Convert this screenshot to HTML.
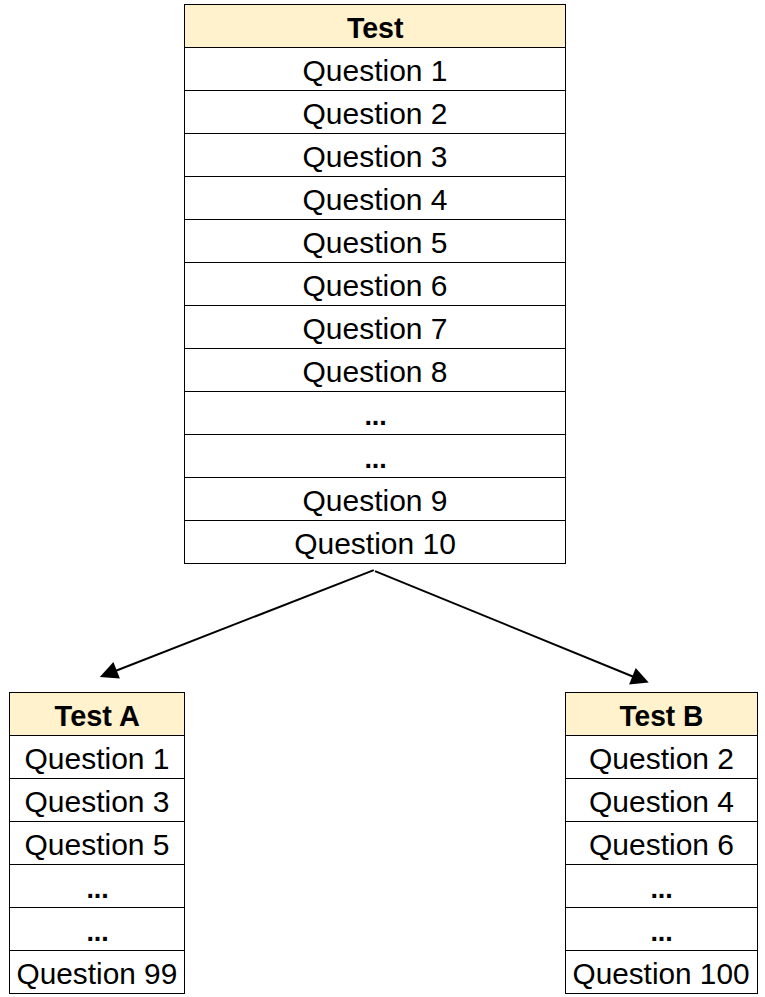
<!DOCTYPE html>
<html lang="en">
<head>
<meta charset="utf-8">
<title>Test split diagram</title>
<style>
html,body{margin:0;padding:0;background:#fff;}
body{width:765px;height:997px;overflow:hidden;}
svg{display:block;}
text{font-family:"Liberation Sans",sans-serif;font-size:29.3px;fill:#000;text-anchor:middle;}
text.b{font-weight:bold;}
text.d{font-weight:bold;font-size:27px;letter-spacing:-0.2px;}
</style>
</head>
<body>
<svg width="765" height="997" viewBox="0 0 765 997">
<rect x="0" y="0" width="765" height="997" fill="#fff"/>
<rect x="184" y="4" width="382" height="44" fill="#FFF2CC"/>
<rect x="184.5" y="4.5" width="381" height="559" fill="none" stroke="#000" stroke-width="1"/>
<line x1="184" y1="47.5" x2="566" y2="47.5" stroke="#000" stroke-width="1"/>
<line x1="184" y1="90.5" x2="566" y2="90.5" stroke="#000" stroke-width="1"/>
<line x1="184" y1="133.5" x2="566" y2="133.5" stroke="#000" stroke-width="1"/>
<line x1="184" y1="176.5" x2="566" y2="176.5" stroke="#000" stroke-width="1"/>
<line x1="184" y1="219.5" x2="566" y2="219.5" stroke="#000" stroke-width="1"/>
<line x1="184" y1="262.5" x2="566" y2="262.5" stroke="#000" stroke-width="1"/>
<line x1="184" y1="305.5" x2="566" y2="305.5" stroke="#000" stroke-width="1"/>
<line x1="184" y1="348.5" x2="566" y2="348.5" stroke="#000" stroke-width="1"/>
<line x1="184" y1="391.5" x2="566" y2="391.5" stroke="#000" stroke-width="1"/>
<line x1="184" y1="434.5" x2="566" y2="434.5" stroke="#000" stroke-width="1"/>
<line x1="184" y1="477.5" x2="566" y2="477.5" stroke="#000" stroke-width="1"/>
<line x1="184" y1="520.5" x2="566" y2="520.5" stroke="#000" stroke-width="1"/>
<text class="b" transform="translate(375.20,37.6) scale(0.975,1)">Test</text>
<text class="r" transform="translate(375.00,80.6) scale(1.024,1)">Question 1</text>
<text class="r" transform="translate(375.00,123.6) scale(1.024,1)">Question 2</text>
<text class="r" transform="translate(375.00,166.6) scale(1.024,1)">Question 3</text>
<text class="r" transform="translate(375.00,209.6) scale(1.024,1)">Question 4</text>
<text class="r" transform="translate(375.00,252.6) scale(1.024,1)">Question 5</text>
<text class="r" transform="translate(375.00,295.6) scale(1.024,1)">Question 6</text>
<text class="r" transform="translate(375.00,338.6) scale(1.024,1)">Question 7</text>
<text class="r" transform="translate(375.00,381.6) scale(1.024,1)">Question 8</text>
<text class="d" transform="translate(375.50,424.6) scale(1,1)">...</text>
<text class="d" transform="translate(375.50,467.6) scale(1,1)">...</text>
<text class="r" transform="translate(375.00,510.6) scale(1.024,1)">Question 9</text>
<text class="r" transform="translate(375.00,553.6) scale(1.024,1)">Question 10</text>
<rect x="9" y="692" width="176" height="44" fill="#FFF2CC"/>
<rect x="9.5" y="692.5" width="175" height="301" fill="none" stroke="#000" stroke-width="1"/>
<line x1="9" y1="735.5" x2="185" y2="735.5" stroke="#000" stroke-width="1"/>
<line x1="9" y1="778.5" x2="185" y2="778.5" stroke="#000" stroke-width="1"/>
<line x1="9" y1="821.5" x2="185" y2="821.5" stroke="#000" stroke-width="1"/>
<line x1="9" y1="864.5" x2="185" y2="864.5" stroke="#000" stroke-width="1"/>
<line x1="9" y1="907.5" x2="185" y2="907.5" stroke="#000" stroke-width="1"/>
<line x1="9" y1="950.5" x2="185" y2="950.5" stroke="#000" stroke-width="1"/>
<text class="b" transform="translate(97.20,725.6) scale(0.988,1)">Test A</text>
<text class="r" transform="translate(97.00,768.6) scale(1.024,1)">Question 1</text>
<text class="r" transform="translate(97.00,811.6) scale(1.024,1)">Question 3</text>
<text class="r" transform="translate(97.00,854.6) scale(1.024,1)">Question 5</text>
<text class="d" transform="translate(97.50,897.6) scale(1,1)">...</text>
<text class="d" transform="translate(97.50,940.6) scale(1,1)">...</text>
<text class="r" transform="translate(96.90,983.6) scale(1.018,1)">Question 99</text>
<rect x="565" y="692" width="193" height="44" fill="#FFF2CC"/>
<rect x="565.5" y="692.5" width="192" height="301" fill="none" stroke="#000" stroke-width="1"/>
<line x1="565" y1="735.5" x2="758" y2="735.5" stroke="#000" stroke-width="1"/>
<line x1="565" y1="778.5" x2="758" y2="778.5" stroke="#000" stroke-width="1"/>
<line x1="565" y1="821.5" x2="758" y2="821.5" stroke="#000" stroke-width="1"/>
<line x1="565" y1="864.5" x2="758" y2="864.5" stroke="#000" stroke-width="1"/>
<line x1="565" y1="907.5" x2="758" y2="907.5" stroke="#000" stroke-width="1"/>
<line x1="565" y1="950.5" x2="758" y2="950.5" stroke="#000" stroke-width="1"/>
<text class="b" transform="translate(661.40,725.6) scale(0.96,1)">Test B</text>
<text class="r" transform="translate(661.50,768.6) scale(1.024,1)">Question 2</text>
<text class="r" transform="translate(661.50,811.6) scale(1.024,1)">Question 4</text>
<text class="r" transform="translate(661.50,854.6) scale(1.024,1)">Question 6</text>
<text class="d" transform="translate(661.50,897.6) scale(1,1)">...</text>
<text class="d" transform="translate(661.50,940.6) scale(1,1)">...</text>
<text class="r" transform="translate(661.00,983.6) scale(1.016,1)">Question 100</text>
<line x1="373.8" y1="570.1" x2="114" y2="671.5" stroke="#000" stroke-width="1.9"/>
<polygon points="99.8,677.0 113.4,662.0 119.9,678.6" fill="#000"/>
<line x1="375.0" y1="571.2" x2="634" y2="677.0" stroke="#000" stroke-width="1.9"/>
<polygon points="648.7,682.4 635.7,668.0 629.1,684.5" fill="#000"/>
</svg>
</body>
</html>
